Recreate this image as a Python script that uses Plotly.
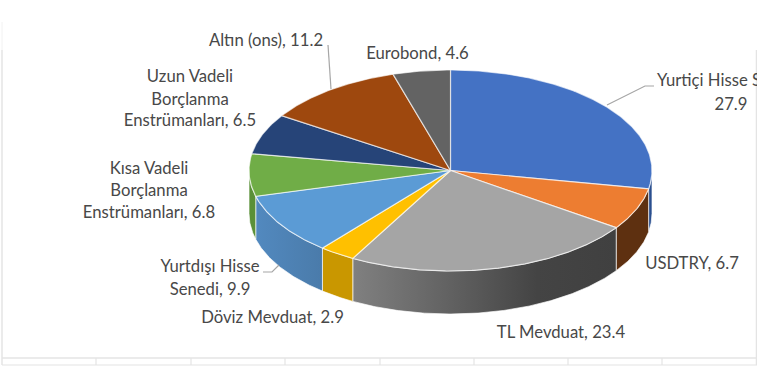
import numpy as np
import plotly.graph_objects as go

categories = ["Yurtiçi Hisse Senedi", "USDTRY", "TL Mevduat", "Döviz Mevduat", "Yurtdışı Hisse Senedi",
              "Kısa Vadeli Borçlanma Enstrümanları", "Uzun Vadeli Borçlanma Enstrümanları", "Altın (ons)", "Eurobond"]
values = [27.9, 6.7, 23.4, 2.9, 9.9, 6.8, 6.5, 11.2, 4.6]

top_colors = ["#4472C4", "#ED7D31", "#A5A5A5", "#FFC000", "#5B9BD5", "#70AD47", "#264478", "#9E480E", "#636363"]
side_colors = ["#2A4F8F", "#5E3010", "#555555", "#C99700", "#4A7FB3", "#5A9038", "#1B3157", "#6E320A", "#454545"]
side_gradients = {
    2: [[0, "#808080"], [0.35, "#636363"], [0.7, "#444444"], [1, "#404040"]],
    4: [[0, "#5289BF"], [1, "#4A7BAA"]],
}

label_lines = [
    ("Yurtiçi Hisse Senedi,", 731, 82), ("27.9", 731, 106),
    ("USDTRY, 6.7", 692, 265),
    ("TL Mevduat, 23.4", 561, 334),
    ("Döviz Mevduat, 2.9", 272.5, 319),
    ("Yurtdışı Hisse", 210, 268), ("Senedi, 9.9", 210, 291),
    ("Kısa Vadeli", 149, 170), ("Borçlanma", 149, 192), ("Enstrümanları, 6.8", 149, 214),
    ("Uzun Vadeli", 190, 78), ("Borçlanma", 190, 101), ("Enstrümanları, 6.5", 190, 122),
    ("Altın (ons), 11.2", 266, 42),
    ("Eurobond, 4.6", 417.5, 55),
]
leaders = [
    ([607, 645, 654], [105, 86, 86]),
    ([328, 331], [45, 89]),
    ([263, 272, 279], [272, 272, 265]),
]

CX, CY, RX, RY, DEPTH = 450.5, 170.5, 201.5, 100.5, 43
W, H = 760, 369
PLOT_R = 757
EDGE = "rgba(255,255,255,0.65)"
FONT = "Lato"
FONT_SIZE = 16.7


def arc(a0, a1, dy=0.0):
    t = np.radians(np.linspace(a0, a1, max(3, int(abs(a1 - a0) * 2) + 1)))
    return CX + RX * np.sin(t), CY - RY * np.cos(t) + dy


fractions = np.array(values) / np.sum(values)
edges = np.concatenate([[0], np.cumsum(fractions)]) * 360

fig = go.Figure()

# Side wall: only the front half (90 to 270 degrees clockwise from the top) is visible.
for i in range(len(values)):
    a0, a1 = max(edges[i], 90), min(edges[i + 1], 270)
    if a1 <= a0:
        continue
    xt, yt = arc(a0, a1)
    xb, yb = arc(a1, a0, DEPTH)
    kw = dict(fillcolor=side_colors[i])
    if i in side_gradients:
        kw = dict(fillgradient=dict(type="horizontal", colorscale=side_gradients[i]))
    fig.add_trace(go.Scatter(
        x=np.concatenate([xt, xb, xt[:1]]), y=np.concatenate([yt, yb, yt[:1]]),
        mode="lines", fill="toself", line=dict(color=EDGE, width=1),
        hoverinfo="skip", showlegend=False, **kw))

# Top face
for i, name in enumerate(categories):
    xs, ys = arc(edges[i], edges[i + 1])
    fig.add_trace(go.Scatter(
        x=np.concatenate([[CX], xs, [CX]]), y=np.concatenate([[CY], ys, [CY]]),
        mode="lines", fill="toself", fillcolor=top_colors[i],
        line=dict(color=EDGE, width=1.2), name=name,
        text=f"{name}, {values[i]}", hoverinfo="text", showlegend=False))

for lx, ly in leaders:
    fig.add_trace(go.Scatter(x=lx, y=ly, mode="lines", line=dict(color="#A6A6A6", width=1.2),
                             hoverinfo="skip", showlegend=False))

fig.add_trace(go.Scatter(
    x=[p[1] for p in label_lines], y=[p[2] for p in label_lines], text=[p[0] for p in label_lines],
    mode="text", textposition="middle center", cliponaxis=True,
    textfont=dict(family=FONT, size=FONT_SIZE, color="#484848"),
    hoverinfo="skip", showlegend=False))

# Remains of the worksheet frame
GRID = "#E4E4E4"
shapes = []
def seg(x0, y0, x1, y1, w=1.5, c=GRID):
    shapes.append(dict(type="line", x0=x0, y0=y0, x1=x1, y1=y1, layer="below", line=dict(color=c, width=w)))
seg(2, 50, 2, 365)
seg(2, 22, 2, 50, 1, "#F2F2F2")
seg(756.5, 50, 756.5, 365)
seg(2, 358, 757, 358)
seg(2, 365, 757, 365, 1.2)
for gx in (96, 191, 285, 380, 474, 568, 662):
    seg(gx, 358, gx, 365, 1.2)

fig.update_layout(
    width=W, height=H, autosize=False,
    margin=dict(l=0, r=W - PLOT_R, t=0, b=0, pad=0),
    paper_bgcolor="white", plot_bgcolor="white", shapes=shapes, showlegend=False,
    xaxis=dict(visible=False, range=[0, PLOT_R], fixedrange=True),
    yaxis=dict(visible=False, range=[H, 0], fixedrange=True),
)

fig.write_html("out.html", config={"displayModeBar": False},
               post_script="document.body.style.margin='0';")
